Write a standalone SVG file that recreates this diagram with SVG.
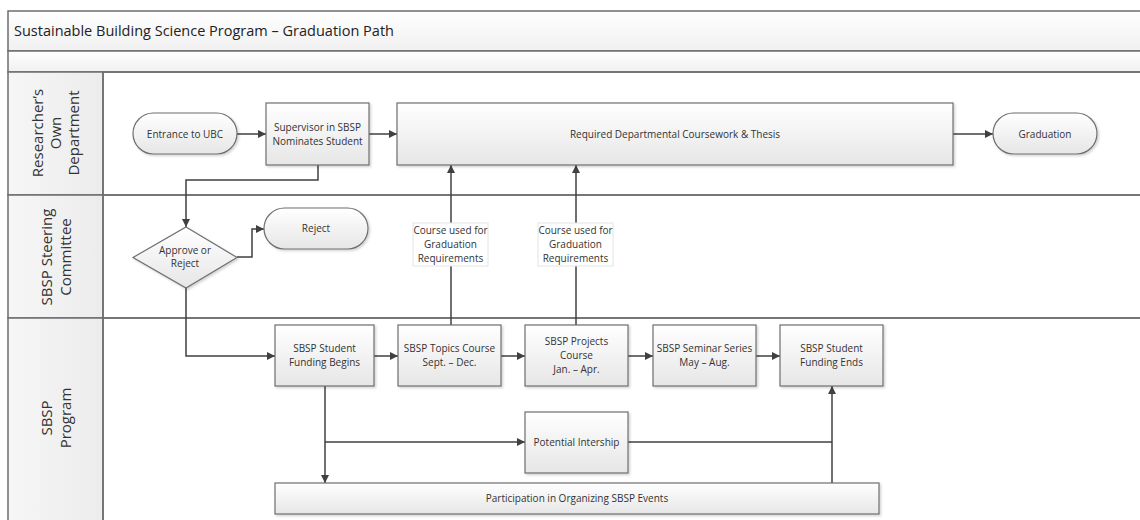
<svg xmlns="http://www.w3.org/2000/svg" width="1140" height="520" viewBox="0 0 1140 520">
<defs>
<linearGradient id="gBox" x1="0" y1="0" x2="0" y2="1"><stop offset="0" stop-color="#ffffff"/><stop offset="1" stop-color="#e6e6e6"/></linearGradient>
<linearGradient id="gHead" x1="0" y1="0" x2="1" y2="0"><stop offset="0" stop-color="#f6f6f6"/><stop offset="1" stop-color="#ececec"/></linearGradient>
<linearGradient id="gTitle" x1="0" y1="0" x2="0" y2="1"><stop offset="0" stop-color="#ffffff"/><stop offset="1" stop-color="#f0f0f0"/></linearGradient>
<filter id="sh" x="-10%" y="-10%" width="130%" height="140%"><feDropShadow dx="1.5" dy="1.5" stdDeviation="1" flood-color="#000" flood-opacity="0.18"/></filter>
<marker id="ah" viewBox="0 0 10 10" refX="10" refY="5" markerWidth="8" markerHeight="8" markerUnits="userSpaceOnUse" orient="auto"><path d="M0,0 L10,5 L0,10 z" fill="#404040"/></marker>
</defs>
<style>
.box{fill:url(#gBox);stroke:#6e6e6e;stroke-width:1.2;filter:url(#sh)}
.lbl{fill:#ffffff;stroke:#e4e4e4;stroke-width:1}
.t{font-family:"Open Sans","Liberation Sans",sans-serif;font-size:10px;fill:#333;text-anchor:middle}
.hd{font-family:"Open Sans","Liberation Sans",sans-serif;font-size:15px;fill:#333;text-anchor:middle}
.title{font-family:"Open Sans","Liberation Sans",sans-serif;font-size:14.5px;fill:#222}
.c{fill:none;stroke:#404040;stroke-width:1.5}
</style>
<rect x="0" y="0" width="1140" height="520" fill="#ffffff"/>
<g id="pool">
<rect x="8" y="11" width="1140" height="40" fill="url(#gTitle)" stroke="#6e6e6e" stroke-width="1.5"/>
<rect x="8" y="51" width="1140" height="21" fill="url(#gTitle)" stroke="#6e6e6e" stroke-width="1.5"/>
<text class="title" x="14" y="36">Sustainable Building Science Program – Graduation Path</text>
</g>
<g id="lane-dept">
<rect x="8" y="72" width="95" height="123" fill="url(#gHead)" stroke="#6e6e6e" stroke-width="1.5"/>
<rect x="103" y="72" width="1045" height="123" fill="none" stroke="#6e6e6e" stroke-width="1.5"/>
<text class="hd" transform="translate(56,133) rotate(-90)"><tspan x="0" y="-13">Researcher’s</tspan><tspan x="0" y="5">Own</tspan><tspan x="0" y="23">Department</tspan></text>
</g>
<g id="lane-committee">
<rect x="8" y="195" width="95" height="123" fill="url(#gHead)" stroke="#6e6e6e" stroke-width="1.5"/>
<rect x="103" y="195" width="1045" height="123" fill="none" stroke="#6e6e6e" stroke-width="1.5"/>
<text class="hd" transform="translate(56,257) rotate(-90)"><tspan x="0" y="-4">SBSP Steering</tspan><tspan x="0" y="15">Committee</tspan></text>
</g>
<g id="lane-program">
<rect x="8" y="318" width="95" height="210" fill="url(#gHead)" stroke="#6e6e6e" stroke-width="1.5"/>
<rect x="103" y="318" width="1045" height="210" fill="none" stroke="#6e6e6e" stroke-width="1.5"/>
<text class="hd" transform="translate(56,418) rotate(-90)"><tspan x="0" y="-4">SBSP</tspan><tspan x="0" y="15">Program</tspan></text>
</g>
<g id="connectors">
<path class="c" d="M237,134 H266" marker-end="url(#ah)"/>
<path class="c" d="M369,134 H397" marker-end="url(#ah)"/>
<path class="c" d="M953,134 H993" marker-end="url(#ah)"/>
<path class="c" d="M318,165 V180 H186 V227" marker-end="url(#ah)"/>
<path class="c" d="M237,257 H252 V229 H264" marker-end="url(#ah)"/>
<path class="c" d="M186,288 V356 H275" marker-end="url(#ah)"/>
<path class="c" d="M374,356 H398" marker-end="url(#ah)"/>
<path class="c" d="M501,356 H525" marker-end="url(#ah)"/>
<path class="c" d="M628,356 H653" marker-end="url(#ah)"/>
<path class="c" d="M756,356 H780" marker-end="url(#ah)"/>
<path class="c" d="M451,325 V165" marker-end="url(#ah)"/>
<path class="c" d="M576,325 V165" marker-end="url(#ah)"/>
<path class="c" d="M325,386 V483" marker-end="url(#ah)"/>
<path class="c" d="M325,442 H525" marker-end="url(#ah)"/>
<path class="c" d="M628,442 H832"/>
<path class="c" d="M832,483 V386" marker-end="url(#ah)"/>
</g>
<g id="lbl1">
<rect class="lbl" x="413" y="223" width="75" height="43"/>
<text class="t"><tspan x="450.5" y="234">Course used for</tspan><tspan x="450.5" y="248">Graduation</tspan><tspan x="450.5" y="262">Requirements</tspan></text>
</g>
<g id="lbl2">
<rect class="lbl" x="538" y="223" width="75" height="43"/>
<text class="t"><tspan x="575.5" y="234">Course used for</tspan><tspan x="575.5" y="248">Graduation</tspan><tspan x="575.5" y="262">Requirements</tspan></text>
</g>
<g id="n-entrance">
<rect class="box" x="133" y="113" width="104" height="41" rx="20.5"/>
<text class="t" x="185" y="137.5">Entrance to UBC</text>
</g>
<g id="n-supervisor">
<rect class="box" x="266" y="103" width="103" height="62"/>
<text class="t"><tspan x="317.5" y="131">Supervisor in SBSP</tspan><tspan x="317.5" y="145">Nominates Student</tspan></text>
</g>
<g id="n-required">
<rect class="box" x="397" y="103" width="556" height="62"/>
<text class="t" x="675" y="137.5">Required Departmental Coursework &amp; Thesis</text>
</g>
<g id="n-graduation">
<rect class="box" x="993" y="113" width="104" height="41" rx="20.5"/>
<text class="t" x="1045" y="137.5">Graduation</text>
</g>
<g id="n-decision">
<polygon class="box" points="186,227 237,257.5 186,288 133,257.5"/>
<text class="t"><tspan x="185" y="254">Approve or</tspan><tspan x="185" y="267">Reject</tspan></text>
</g>
<g id="n-reject">
<rect class="box" x="264" y="208" width="104" height="41" rx="20.5"/>
<text class="t" x="316" y="231.5">Reject</text>
</g>
<g id="n-fund-begins">
<rect class="box" x="275" y="325" width="99" height="61"/>
<text class="t"><tspan x="324.5" y="352">SBSP Student</tspan><tspan x="324.5" y="366">Funding Begins</tspan></text>
</g>
<g id="n-topics">
<rect class="box" x="398" y="325" width="103" height="61"/>
<text class="t"><tspan x="449.5" y="352">SBSP Topics Course</tspan><tspan x="449.5" y="366">Sept. – Dec.</tspan></text>
</g>
<g id="n-projects">
<rect class="box" x="525" y="325" width="103" height="61"/>
<text class="t"><tspan x="576.5" y="345">SBSP Projects</tspan><tspan x="576.5" y="359">Course</tspan><tspan x="576.5" y="373">Jan. – Apr.</tspan></text>
</g>
<g id="n-seminar">
<rect class="box" x="653" y="325" width="103" height="61"/>
<text class="t"><tspan x="704.5" y="352">SBSP Seminar Series</tspan><tspan x="704.5" y="366">May – Aug.</tspan></text>
</g>
<g id="n-fund-ends">
<rect class="box" x="780" y="325" width="103" height="61"/>
<text class="t"><tspan x="831.5" y="352">SBSP Student</tspan><tspan x="831.5" y="366">Funding Ends</tspan></text>
</g>
<g id="n-internship">
<rect class="box" x="525" y="412" width="103" height="61"/>
<text class="t" x="576.5" y="445.5">Potential Intership</text>
</g>
<g id="n-events">
<rect class="box" x="275" y="483" width="604" height="31"/>
<text class="t" x="577" y="502">Participation in Organizing SBSP Events</text>
</g>
</svg>
